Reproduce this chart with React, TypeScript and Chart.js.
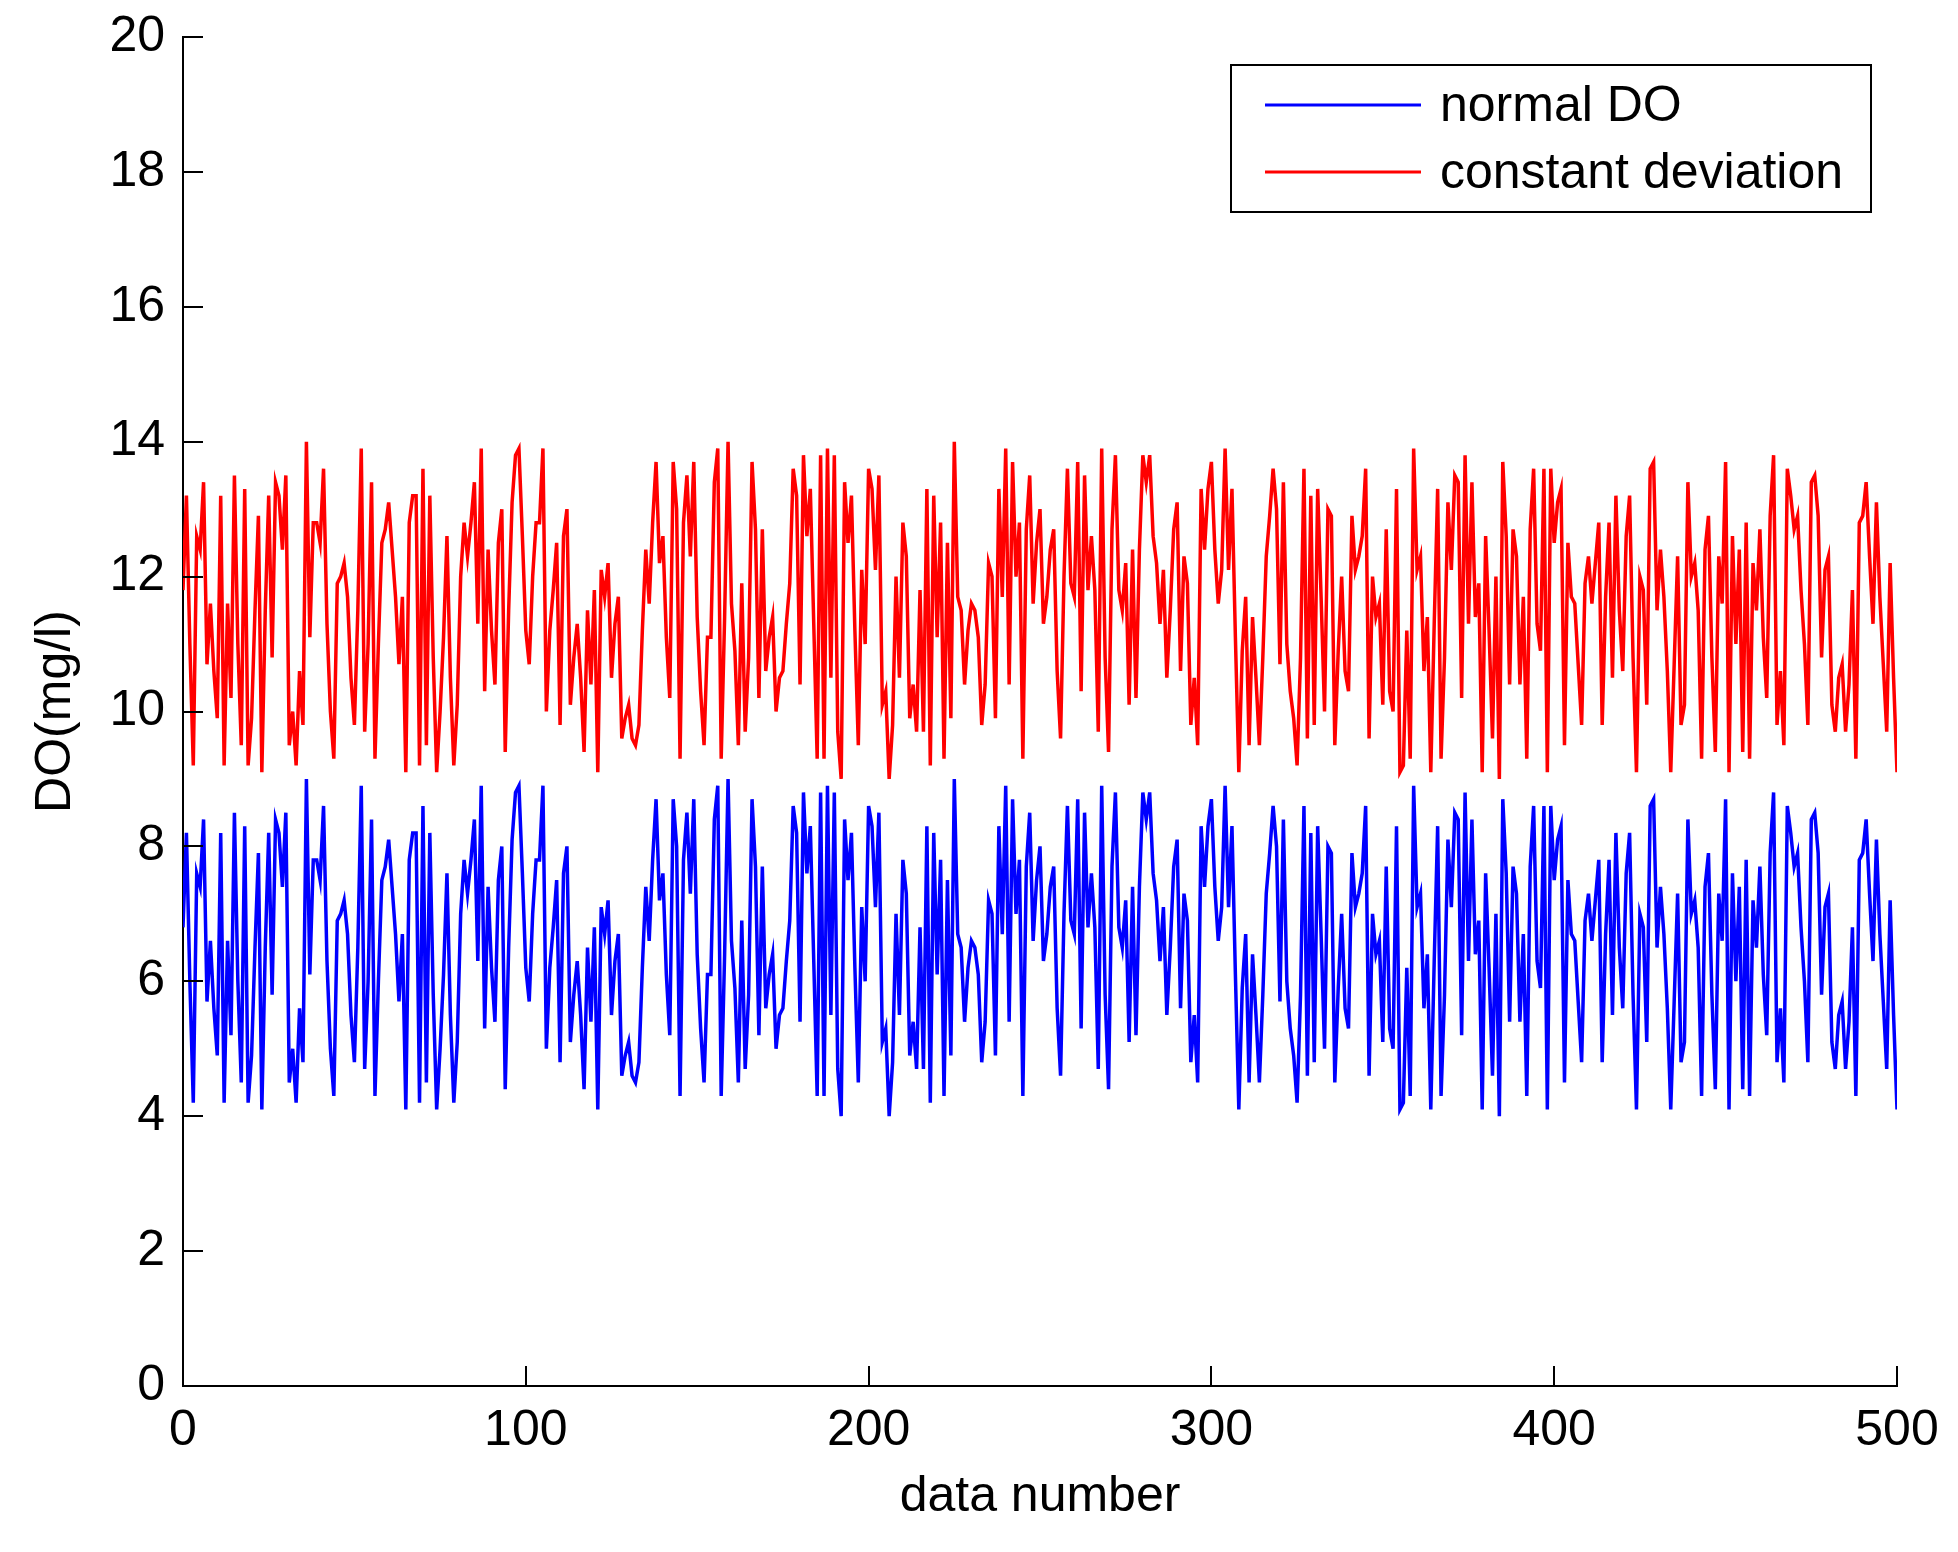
import React, { useEffect, useRef } from "react";
import { Chart, registerables } from "chart.js";

Chart.register(...registerables);

// ---- data ----
const normalDO = [
  6.8,8.2,6.0,4.2,7.6,7.4,8.4,5.7,6.6,5.6,
  4.9,8.2,4.2,6.6,5.2,8.5,6.0,4.5,8.3,4.2,
  4.9,6.5,7.9,4.1,6.5,8.2,5.8,8.4,8.2,7.4,
  8.5,4.5,5.0,4.2,5.6,4.8,9.0,6.1,7.8,7.8,
  7.5,8.6,6.3,5.0,4.3,6.9,7.0,7.2,6.7,5.5,
  4.8,6.5,8.9,4.7,6.0,8.4,4.3,6.0,7.5,7.7,
  8.1,7.4,6.7,5.7,6.7,4.1,7.8,8.2,8.2,4.2,
  8.6,4.5,8.2,5.8,4.1,5.0,6.1,7.6,5.5,4.2,
  5.1,7.0,7.8,7.3,7.8,8.4,6.3,8.9,5.3,7.4,
  6.2,5.4,7.5,8.0,4.4,6.5,8.1,8.8,8.9,7.6,
  6.2,5.7,7.0,7.8,7.8,8.9,5.0,6.2,6.8,7.5,
  4.8,7.6,8.0,5.1,5.8,6.3,5.5,4.4,6.5,5.4,
  6.8,4.1,7.1,6.7,7.2,5.5,6.3,6.7,4.6,4.9,
  5.1,4.6,4.5,4.8,6.2,7.4,6.6,7.8,8.7,7.2,
  7.6,6.1,5.2,8.7,8.0,4.3,7.8,8.5,7.3,8.7,
  6.4,5.3,4.5,6.1,6.1,8.4,8.9,4.3,6.4,9.0,
  6.6,5.9,4.5,6.9,4.7,5.8,8.7,7.7,5.2,7.7,
  5.6,6.1,6.4,5.0,5.5,5.6,6.3,6.9,8.6,8.2,
  5.4,8.8,7.6,8.3,6.3,4.3,8.8,4.3,8.9,5.5,
  8.8,4.7,4.0,8.4,7.5,8.2,6.2,4.5,7.1,6.0,
  8.6,8.3,7.1,8.5,5.1,5.3,4.0,4.8,7.0,5.5,
  7.8,7.3,4.9,5.4,4.7,6.8,4.7,8.3,4.2,8.2,
  6.1,7.8,4.3,7.5,4.9,9.0,6.7,6.5,5.4,6.2,
  6.6,6.5,6.1,4.8,5.4,7.2,7.0,4.9,8.3,6.7,
  8.9,5.4,8.7,7.0,7.8,4.3,7.7,8.5,6.6,7.5,
  8.0,6.3,6.7,7.4,7.7,5.6,4.6,7.0,8.6,6.9,
  6.7,8.7,5.3,8.5,6.8,7.6,6.8,4.7,8.9,5.8,
  4.4,7.7,8.8,6.8,6.5,7.2,5.1,7.4,5.2,7.4,
  8.8,8.4,8.8,7.6,7.2,6.3,7.1,5.5,6.5,7.7,
  8.1,5.6,7.3,6.9,4.8,5.5,4.5,8.3,7.4,8.3,
  8.7,7.4,6.6,7.1,8.9,7.1,8.3,6.1,4.1,5.9,
  6.7,4.5,6.4,5.5,4.5,5.8,7.3,7.9,8.6,8.0,
  5.7,8.4,6.0,5.3,4.9,4.2,5.8,8.6,4.6,8.2,
  4.8,8.3,6.7,5.0,8.0,7.9,4.5,5.9,7.0,5.6,
  5.3,7.9,7.1,7.3,7.6,8.6,4.6,7.0,6.4,6.6,
  5.1,7.7,5.3,5.0,8.3,4.1,4.2,6.2,4.3,8.9,
  7.1,7.3,5.6,6.4,4.1,6.3,8.3,4.3,5.8,8.1,
  7.1,8.5,8.4,5.2,8.8,6.3,8.4,6.4,6.9,4.1,
  7.6,6.2,4.6,7.0,4.0,8.7,7.6,5.4,7.7,7.3,
  5.4,6.7,4.3,7.7,8.6,6.3,5.9,8.6,4.1,8.6,
  7.5,8.1,8.3,4.5,7.5,6.7,6.6,5.7,4.8,6.9,
  7.3,6.6,7.2,7.8,4.8,6.7,7.8,5.5,8.2,6.5,
  5.6,7.6,8.2,5.8,4.1,7.0,6.8,5.1,8.6,8.7,
  6.5,7.4,6.7,5.6,4.1,5.7,7.3,4.8,5.1,8.4,
  7.0,7.2,6.5,4.3,7.4,7.9,5.8,4.4,7.3,6.6,
  8.7,4.1,7.6,6.0,7.4,4.4,7.8,4.3,7.2,6.5,
  7.7,6.1,5.2,7.9,8.8,4.8,5.6,4.5,8.6,8.2,
  7.7,7.9,6.8,6.0,4.8,8.4,8.5,7.9,5.8,7.1,
  7.3,5.1,4.7,5.5,5.7,4.7,5.4,6.8,4.3,7.8,
  7.9,8.4,7.3,6.3,8.1,6.7,5.7,4.7,7.2,5.5,
  4.1,
];

const constantDeviation = [
  11.8,13.2,11.0,9.2,12.6,12.4,13.4,10.7,11.6,10.6,
  9.9,13.2,9.2,11.6,10.2,13.5,11.0,9.5,13.3,9.2,
  9.9,11.5,12.9,9.1,11.5,13.2,10.8,13.4,13.2,12.4,
  13.5,9.5,10.0,9.2,10.6,9.8,14.0,11.1,12.8,12.8,
  12.5,13.6,11.3,10.0,9.3,11.9,12.0,12.2,11.7,10.5,
  9.8,11.5,13.9,9.7,11.0,13.4,9.3,11.0,12.5,12.7,
  13.1,12.4,11.7,10.7,11.7,9.1,12.8,13.2,13.2,9.2,
  13.6,9.5,13.2,10.8,9.1,10.0,11.1,12.6,10.5,9.2,
  10.1,12.0,12.8,12.3,12.8,13.4,11.3,13.9,10.3,12.4,
  11.2,10.4,12.5,13.0,9.4,11.5,13.1,13.8,13.9,12.6,
  11.2,10.7,12.0,12.8,12.8,13.9,10.0,11.2,11.8,12.5,
  9.8,12.6,13.0,10.1,10.8,11.3,10.5,9.4,11.5,10.4,
  11.8,9.1,12.1,11.7,12.2,10.5,11.3,11.7,9.6,9.9,
  10.1,9.6,9.5,9.8,11.2,12.4,11.6,12.8,13.7,12.2,
  12.6,11.1,10.2,13.7,13.0,9.3,12.8,13.5,12.3,13.7,
  11.4,10.3,9.5,11.1,11.1,13.4,13.9,9.3,11.4,14.0,
  11.6,10.9,9.5,11.9,9.7,10.8,13.7,12.7,10.2,12.7,
  10.6,11.1,11.4,10.0,10.5,10.6,11.3,11.9,13.6,13.2,
  10.4,13.8,12.6,13.3,11.3,9.3,13.8,9.3,13.9,10.5,
  13.8,9.7,9.0,13.4,12.5,13.2,11.2,9.5,12.1,11.0,
  13.6,13.3,12.1,13.5,10.1,10.3,9.0,9.8,12.0,10.5,
  12.8,12.3,9.9,10.4,9.7,11.8,9.7,13.3,9.2,13.2,
  11.1,12.8,9.3,12.5,9.9,14.0,11.7,11.5,10.4,11.2,
  11.6,11.5,11.1,9.8,10.4,12.2,12.0,9.9,13.3,11.7,
  13.9,10.4,13.7,12.0,12.8,9.3,12.7,13.5,11.6,12.5,
  13.0,11.3,11.7,12.4,12.7,10.6,9.6,12.0,13.6,11.9,
  11.7,13.7,10.3,13.5,11.8,12.6,11.8,9.7,13.9,10.8,
  9.4,12.7,13.8,11.8,11.5,12.2,10.1,12.4,10.2,12.4,
  13.8,13.4,13.8,12.6,12.2,11.3,12.1,10.5,11.5,12.7,
  13.1,10.6,12.3,11.9,9.8,10.5,9.5,13.3,12.4,13.3,
  13.7,12.4,11.6,12.1,13.9,12.1,13.3,11.1,9.1,10.9,
  11.7,9.5,11.4,10.5,9.5,10.8,12.3,12.9,13.6,13.0,
  10.7,13.4,11.0,10.3,9.9,9.2,10.8,13.6,9.6,13.2,
  9.8,13.3,11.7,10.0,13.0,12.9,9.5,10.9,12.0,10.6,
  10.3,12.9,12.1,12.3,12.6,13.6,9.6,12.0,11.4,11.6,
  10.1,12.7,10.3,10.0,13.3,9.1,9.2,11.2,9.3,13.9,
  12.1,12.3,10.6,11.4,9.1,11.3,13.3,9.3,10.8,13.1,
  12.1,13.5,13.4,10.2,13.8,11.3,13.4,11.4,11.9,9.1,
  12.6,11.2,9.6,12.0,9.0,13.7,12.6,10.4,12.7,12.3,
  10.4,11.7,9.3,12.7,13.6,11.3,10.9,13.6,9.1,13.6,
  12.5,13.1,13.3,9.5,12.5,11.7,11.6,10.7,9.8,11.9,
  12.3,11.6,12.2,12.8,9.8,11.7,12.8,10.5,13.2,11.5,
  10.6,12.6,13.2,10.8,9.1,12.0,11.8,10.1,13.6,13.7,
  11.5,12.4,11.7,10.6,9.1,10.7,12.3,9.8,10.1,13.4,
  12.0,12.2,11.5,9.3,12.4,12.9,10.8,9.4,12.3,11.6,
  13.7,9.1,12.6,11.0,12.4,9.4,12.8,9.3,12.2,11.5,
  12.7,11.1,10.2,12.9,13.8,9.8,10.6,9.5,13.6,13.2,
  12.7,12.9,11.8,11.0,9.8,13.4,13.5,12.9,10.8,12.1,
  12.3,10.1,9.7,10.5,10.7,9.7,10.4,11.8,9.3,12.8,
  12.9,13.4,12.3,11.3,13.1,11.7,10.7,9.7,12.2,10.5,
  9.1,
];

const seriesLabels = ["normal DO", "constant deviation"];
const seriesColors = ["#0000ff", "#ff0000"];
const xTickValues = [0, 100, 200, 300, 400, 500];
const yTickValues = [0, 2, 4, 6, 8, 10, 12, 14, 16, 18, 20];
const xTitle = "data number";
const yTitle = "DO(mg/l)";

const FONT = "'Liberation Sans', Arial, Helvetica, sans-serif";
const FONT_SIZE = 50;

const inwardTicksPlugin = {
  id: "inwardTicks",
  afterDatasetsDraw(chart: any) {
    const { ctx, chartArea, scales } = chart;
    const x = scales.x;
    const y = scales.y;
    const len = 20;
    ctx.save();
    ctx.strokeStyle = "#000";
    ctx.lineWidth = 2;
    ctx.beginPath();
    x.ticks.forEach((t: any) => {
      const px = Math.round(x.getPixelForValue(t.value));
      ctx.moveTo(px, chartArea.bottom);
      ctx.lineTo(px, chartArea.bottom - len);
    });
    y.ticks.forEach((t: any) => {
      const py = Math.round(y.getPixelForValue(t.value));
      ctx.moveTo(chartArea.left, py);
      ctx.lineTo(chartArea.left + len, py);
    });
    ctx.stroke();
    ctx.restore();
  },
};

const boxLegendPlugin = {
  id: "boxLegend",
  afterDraw(chart: any) {
    const { ctx, chartArea } = chart;
    const right = chartArea.right - 26;
    const top = chartArea.top + 28;
    const width = 640;
    const height = 147;
    const left = right - width;
    ctx.save();
    ctx.fillStyle = "#fff";
    ctx.fillRect(left, top, width, height);
    ctx.strokeStyle = "#000";
    ctx.lineWidth = 2;
    ctx.strokeRect(left, top, width, height);
    ctx.font = `${FONT_SIZE}px ${FONT}`;
    ctx.textBaseline = "middle";
    ctx.textAlign = "left";
    chart.data.datasets.forEach((ds: any, i: number) => {
      const yy = top + 40 + i * 67;
      ctx.strokeStyle = ds.borderColor;
      ctx.lineWidth = 3;
      ctx.beginPath();
      ctx.moveTo(left + 34, yy);
      ctx.lineTo(left + 190, yy);
      ctx.stroke();
      ctx.fillStyle = "#000";
      ctx.fillText(ds.label, left + 209, yy + 2);
    });
    ctx.restore();
  },
};

export default function App() {
  const ref = useRef<HTMLCanvasElement | null>(null);

  useEffect(() => {
    if (!ref.current) return;
    const chart = new Chart(ref.current, {
      type: "line",
      data: {
        datasets: [
          {
            label: seriesLabels[0],
            data: normalDO.map((v, i) => ({ x: i, y: v })),
            borderColor: seriesColors[0],
            backgroundColor: seriesColors[0],
            borderWidth: 3.5,
            pointRadius: 0,
            tension: 0,
          },
          {
            label: seriesLabels[1],
            data: constantDeviation.map((v, i) => ({ x: i, y: v })),
            borderColor: seriesColors[1],
            backgroundColor: seriesColors[1],
            borderWidth: 3.5,
            pointRadius: 0,
            tension: 0,
          },
        ],
      },
      options: {
        animation: false,
        responsive: false,
        devicePixelRatio: 1,
        layout: { padding: { top: 37, right: 61, left: 0, bottom: 0 } },
        plugins: {
          legend: { display: false },
          tooltip: { enabled: false },
        },
        scales: {
          x: {
            type: "linear",
            min: 0,
            max: 500,
            afterBuildTicks: (s: any) => {
              s.ticks = xTickValues.map((v) => ({ value: v }));
            },
            afterFit: (s: any) => {
              s.height = 166;
              s.paddingLeft = 0;
              s.paddingRight = 0;
            },
            grid: { display: true, drawOnChartArea: false, drawTicks: false, color: "#000" },
            border: { display: true, color: "#000", width: 2 },
            ticks: {
              color: "#000",
              padding: 15,
              maxRotation: 0,
              font: { family: FONT, size: FONT_SIZE },
            },
            title: {
              display: true,
              text: xTitle,
              color: "#000",
              font: { family: FONT, size: FONT_SIZE },
              padding: { top: 0, bottom: 25 },
            },
          },
          y: {
            type: "linear",
            min: 0,
            max: 20,
            afterBuildTicks: (s: any) => {
              s.ticks = yTickValues.map((v) => ({ value: v }));
            },
            afterFit: (s: any) => {
              s.width = 183;
              s.paddingTop = 0;
              s.paddingBottom = 0;
            },
            grid: { display: true, drawOnChartArea: false, drawTicks: false, color: "#000" },
            border: { display: true, color: "#000", width: 2 },
            ticks: {
              color: "#000",
              padding: 18,
              font: { family: FONT, size: FONT_SIZE },
            },
            title: {
              display: true,
              text: yTitle,
              color: "#000",
              font: { family: FONT, size: FONT_SIZE },
              padding: { top: 26, bottom: 0 },
            },
          },
        },
      },
      plugins: [inwardTicksPlugin, boxLegendPlugin],
    } as any);
    return () => chart.destroy();
  }, []);

  return (
    <div style={{ position: "fixed", left: 0, top: 0, width: 1958, height: 1552, background: "#fff" }}>
      <canvas ref={ref} width={1958} height={1552} style={{ width: 1958, height: 1552, display: "block" }} />
    </div>
  );
}
